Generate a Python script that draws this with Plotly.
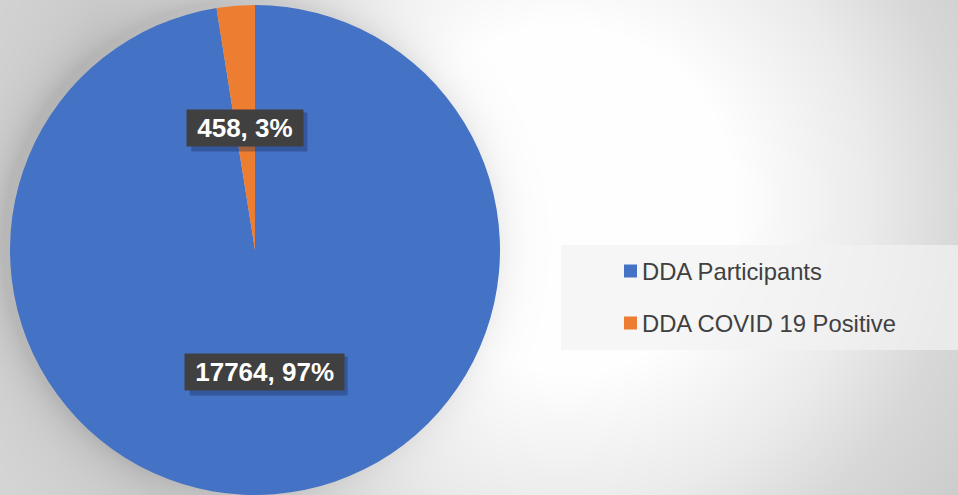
import base64
import math
import struct
import zlib

import numpy as np
import plotly.graph_objects as go

# ---- data ----
categories = ["DDA Participants", "DDA COVID 19 Positive"]
counts = [17764, 458]
colors = ["#4472C4", "#ED7D31"]

W, H = 958, 495
# pie placement in pixels
CX, CY, R = 255, 250, 245


def png_data_uri(rgb):
    """Encode an HxWx3 uint8 array as a PNG data URI (stdlib only)."""
    h, w, _ = rgb.shape
    raw = b"".join(b"\x00" + rgb[i].tobytes() for i in range(h))

    def chunk(tag, data):
        c = struct.pack(">I", len(data)) + tag + data
        return c + struct.pack(">I", zlib.crc32(tag + data) & 0xFFFFFFFF)

    png = b"\x89PNG\r\n\x1a\n"
    png += chunk(b"IHDR", struct.pack(">IIBBBBB", w, h, 8, 2, 0, 0, 0))
    png += chunk(b"IDAT", zlib.compress(raw, 9))
    png += chunk(b"IEND", b"")
    return "data:image/png;base64," + base64.b64encode(png).decode()


# ---- slide background: soft radial gradient plus a halo around the pie ----
yy, xx = np.mgrid[0:H, 0:W].astype(float)
d = np.hypot(xx - 560, yy - 200)
bg = np.interp(d, [0, 170, 310, 400, 500, 700], [255, 255, 235, 216, 204, 218])
rs = np.hypot(xx - (CX - 8), yy - (CY - 5)) - R
halo = 24 * np.exp(-np.clip(rs, 0, None) / 18.0)
bg = np.clip(bg - halo, 0, 255).astype(np.uint8)
bg_img = np.dstack([bg, bg, bg])

fig = go.Figure()

fig.add_trace(go.Pie(
    labels=categories,
    values=counts,
    marker=dict(colors=colors, line=dict(width=0)),
    sort=False,
    direction="clockwise",
    rotation=0,
    textinfo="none",
    hoverinfo="label+value+percent",
    showlegend=False,
    domain=dict(x=[(CX - R) / W, (CX + R) / W],
                y=[(H - CY - R) / H, (H - CY + R) / H]),
))

shapes = []
annotations = []

# ---- data labels: dark boxes placed halfway out along each slice ----
total = sum(counts)
cum = 0
lab_font = dict(family="Liberation Sans, Arial", size=26, color="white", weight="bold")
for v in counts:
    mid = (cum + v / 2) / total
    cum += v
    theta = math.radians(90 - 360 * mid)
    px = CX + 0.5 * R * math.cos(theta)
    py = CY - 0.5 * R * math.sin(theta)
    text = f"{v}, {round(100 * v / total)}%"
    half_w = (0.56 * 25 * len(text) + 18) / 2
    half_h = 19.5
    # drop shadow behind the label box
    shapes.append(dict(
        type="rect", xref="paper", yref="paper",
        xsizemode="pixel", ysizemode="pixel",
        xanchor=px / W, yanchor=1 - py / H,
        x0=-half_w + 4, x1=half_w + 4, y0=-half_h - 4, y1=half_h - 4,
        fillcolor="rgba(20,40,90,0.35)", line=dict(width=0), layer="above",
    ))
    annotations.append(dict(
        x=px / W, y=1 - py / H, xref="paper", yref="paper",
        text="\u00a0" + text + "\u00a0", showarrow=False,
        font=lab_font, bgcolor="#404040", borderpad=3,
        xanchor="center", yanchor="middle",
    ))

# ---- legend panel ----
shapes.append(dict(
    type="rect", xref="paper", yref="paper",
    x0=561 / W, x1=1, y0=1 - 350 / H, y1=1 - 245 / H,
    fillcolor="rgba(242,242,242,0.7)", line=dict(width=0), layer="below",
))
for i, (name, col) in enumerate(zip(categories, colors)):
    ly = 271 + 52 * i
    shapes.append(dict(
        type="rect", xref="paper", yref="paper",
        xsizemode="pixel", ysizemode="pixel",
        xanchor=624 / W, yanchor=1 - ly / H,
        x0=0, x1=13, y0=-6.5, y1=6.5,
        fillcolor=col, line=dict(width=0), layer="above",
    ))
    annotations.append(dict(
        x=640 / W, y=1 - ly / H, xref="paper", yref="paper",
        text=name, showarrow=False, xanchor="left", yanchor="middle",
        font=dict(family="Liberation Sans, Arial", size=23.8, color="#404040"),
    ))

fig.update_layout(
    width=W, height=H,
    margin=dict(l=0, r=0, t=0, b=0),
    paper_bgcolor="white",
    plot_bgcolor="white",
    showlegend=False,
    shapes=shapes,
    annotations=annotations,
    images=[dict(
        source=png_data_uri(bg_img), xref="paper", yref="paper",
        x=0, y=1, sizex=1, sizey=1, sizing="stretch",
        xanchor="left", yanchor="top", layer="below",
    )],
)

fig.write_html("out.html", config={"displayModeBar": False})
